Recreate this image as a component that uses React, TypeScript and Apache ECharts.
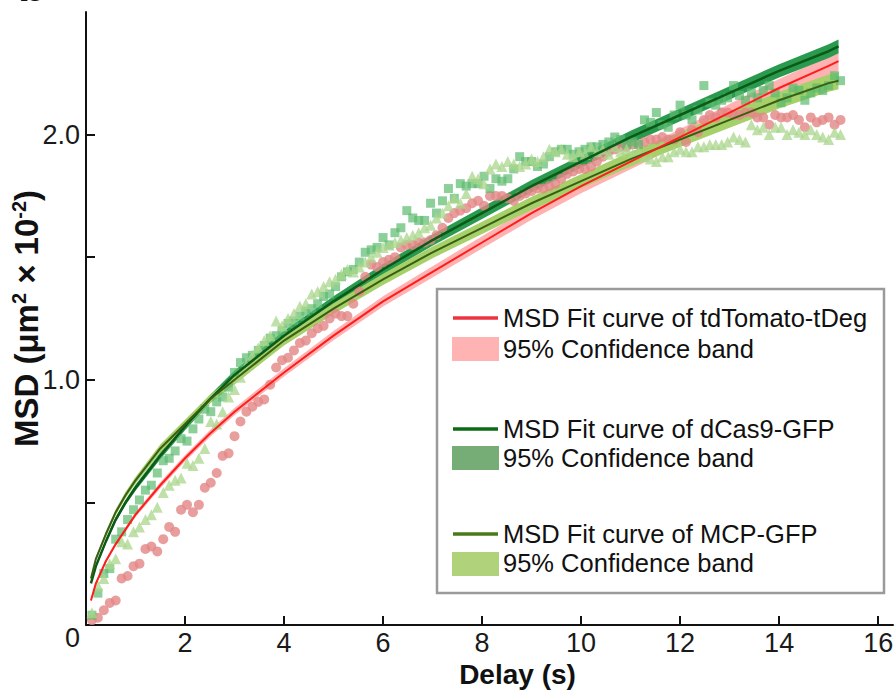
import React, { useEffect, useRef } from "react";
import * as echarts from "echarts";

const FONT = '"Liberation Sans", Arial, Helvetica, sans-serif';

// lag step between consecutive MSD delays (s)
const DELAY_STEP = 0.12;

// measured MSD (µm² × 10⁻²) per delay
const MSD_TDTOMATO = [
  0.02, 0.03, 0.06, 0.09, 0.1, 0.19, 0.2, 0.24, 0.25, 0.31, 0.32, 0.3, 0.35, 0.4, 0.38, 0.47, 0.49, 0.46, 0.49, 0.56,
  0.58, 0.62, 0.69, 0.7, 0.77, 0.83, 0.87, 0.89, 0.91, 0.92, 0.98, 1.05, 1.08, 1.09, 1.12, 1.15, 1.16, 1.19, 1.21, 1.22,
  1.25, 1.27, 1.26, 1.26, 1.31, 1.36, 1.42, 1.47, 1.46, 1.48, 1.49, 1.5, 1.54, 1.55, 1.55, 1.56, 1.56, 1.57, 1.59, 1.62,
  1.66, 1.68, 1.69, 1.7, 1.72, 1.73, 1.71, 1.75, 1.75, 1.75, 1.74, 1.73, 1.75, 1.76, 1.77, 1.78, 1.78, 1.79, 1.8, 1.82,
  1.84, 1.85, 1.86, 1.86, 1.87, 1.89, 1.91, 1.93, 1.94, 1.95, 1.95, 1.96, 1.96, 1.97, 1.98, 1.98, 1.99, 1.98, 1.98, 2.01,
  1.97, 2.02, 2.01, 2.06, 2.08, 2.07, 2.09, 2.09, 2.08, 2.08, 2.09, 2.09, 2.07, 2.07, 2.04, 2.08, 2.07, 2.07, 2.08, 2.06,
  2.03, 2.07, 2.05, 2.06, 2.07, 2.04, 2.06,
];

const MSD_DCAS9 = [
  0.04, 0.13, 0.21, 0.23, 0.35, 0.38, 0.43, 0.47, 0.51, 0.55, 0.57, 0.62, 0.67, 0.68, 0.71, 0.76, 0.75, 0.8, 0.84, 0.88,
  0.87, 0.91, 0.93, 0.97, 1.03, 1.07, 1.09, 1.1, 1.12, 1.14, 1.17, 1.18, 1.2, 1.23, 1.24, 1.26, 1.28, 1.29, 1.31, 1.34,
  1.35, 1.38, 1.42, 1.44, 1.45, 1.48, 1.52, 1.53, 1.54, 1.58, 1.55, 1.6, 1.62, 1.69, 1.66, 1.65, 1.65, 1.72, 1.68, 1.73,
  1.78, 1.74, 1.8, 1.79, 1.8, 1.8, 1.83, 1.78, 1.82, 1.81, 1.82, 1.86, 1.91, 1.89, 1.89, 1.87, 1.88, 1.91, 1.93, 1.94,
  1.94, 1.92, 1.93, 1.94, 1.95, 1.95, 1.96, 1.97, 1.99, 1.98, 1.96, 1.97, 1.96, 2.06, 2.05, 2.09, 2.04, 2.03, 2.08, 2.12,
  2.08, 2.06, 2.1, 2.2, 2.13, 2.12, 2.14, 2.15, 2.2, 2.16, 2.14, 2.17, 2.15, 2.18, 2.2, 2.17, 2.13, 2.15, 2.19, 2.18,
  2.14, 2.17, 2.19, 2.18, 2.2, 2.24, 2.22,
];

const MSD_MCP = [
  0.05, 0.16, 0.19, 0.25, 0.27, 0.34, 0.33, 0.38, 0.4, 0.43, 0.45, 0.48, 0.54, 0.57, 0.59, 0.6, 0.66, 0.65, 0.68, 0.72,
  0.83, 0.82, 0.87, 0.93, 0.96, 1.01, 1.06, 1.1, 1.13, 1.16, 1.18, 1.24, 1.22, 1.25, 1.27, 1.3, 1.31, 1.35, 1.36, 1.38,
  1.4, 1.41, 1.43, 1.45, 1.44, 1.46, 1.48, 1.5, 1.52, 1.54, 1.55, 1.56, 1.57, 1.58, 1.59, 1.6, 1.62, 1.63, 1.66, 1.68,
  1.71, 1.74, 1.72, 1.76, 1.83, 1.82, 1.8, 1.86, 1.88, 1.87, 1.89, 1.88, 1.87, 1.88, 1.9, 1.89, 1.91, 1.94, 1.93, 1.94,
  1.92, 1.91, 1.93, 1.92, 1.95, 1.93, 1.94, 1.92, 1.95, 1.93, 1.94, 1.92, 1.93, 1.91, 1.9, 1.89, 1.91, 1.91, 1.93, 1.94,
  1.93, 1.93, 1.95, 1.95, 1.96, 1.96, 1.96, 1.97, 1.99, 1.98, 1.97, 2.04, 2.02, 2.03, 2.0, 2.03, 2.03, 2.0, 2.02, 2.01,
  2.0, 2.02, 2.0, 1.99, 1.98, 2.01, 2.0,
];

// fitted MSD curves and 95% confidence half-widths
const FIT_DELAYS = [0.1, 0.2, 0.4, 0.6, 0.8, 1, 1.5, 2, 2.5, 3, 4, 5, 6, 7, 8, 9, 10, 11, 12, 13, 14, 15, 15.2];
const FIT_TDTOMATO = [0.1, 0.17, 0.26, 0.33, 0.39, 0.45, 0.57, 0.68, 0.78, 0.87, 1.03, 1.18, 1.32, 1.44, 1.56, 1.68, 1.79, 1.89, 1.99, 2.09, 2.19, 2.28, 2.3];
const FIT_DCAS9 = [0.17, 0.24, 0.34, 0.43, 0.5, 0.56, 0.69, 0.81, 0.92, 1.02, 1.18, 1.32, 1.45, 1.57, 1.68, 1.79, 1.89, 1.99, 2.08, 2.17, 2.26, 2.34, 2.36];
const FIT_MCP = [0.19, 0.27, 0.37, 0.46, 0.53, 0.59, 0.72, 0.82, 0.92, 1.0, 1.16, 1.29, 1.41, 1.52, 1.62, 1.72, 1.81, 1.9, 1.98, 2.06, 2.14, 2.21, 2.22];
const CI_TDTOMATO = [0.004, 0.005, 0.007, 0.008, 0.009, 0.01, 0.012, 0.013, 0.014, 0.015, 0.017, 0.019, 0.021, 0.023, 0.025, 0.027, 0.029, 0.031, 0.033, 0.035, 0.037, 0.04, 0.04];
const CI_DCAS9 = [0.004, 0.006, 0.008, 0.01, 0.011, 0.012, 0.014, 0.016, 0.017, 0.018, 0.02, 0.021, 0.022, 0.023, 0.024, 0.025, 0.025, 0.026, 0.026, 0.027, 0.027, 0.028, 0.028];
const CI_MCP = [0.006, 0.008, 0.01, 0.012, 0.013, 0.014, 0.016, 0.017, 0.018, 0.019, 0.02, 0.022, 0.023, 0.024, 0.025, 0.027, 0.028, 0.03, 0.031, 0.032, 0.034, 0.035, 0.035];

const X_TICKS = [2, 4, 6, 8, 10, 12, 14, 16];
const Y_LABELS = [0, 1, 2];
const Y_TICKS = [0.5, 1, 1.5, 2];

const LEGEND_ITEMS = [
  "MSD Fit curve of tdTomato-tDeg",
  "95% Confidence band",
  "MSD Fit curve of dCas9-GFP",
  "95% Confidence band",
  "MSD Fit curve of MCP-GFP",
  "95% Confidence band",
];

const COLORS = {
  redDot: "#e38686",
  redLine: "#ff1c1c",
  redBand: "#ffb2b2",
  redLegendLine: "#ee3340",
  redLegendBand: "#ffb3b3",
  gSquare: "#5bbb6d",
  gLine: "#0c5a18",
  gBand: "#2a9a4e",
  gLegendLine: "#0a6b14",
  gLegendBand: "#76ad76",
  mTri: "#a9d58b",
  mLine: "#3a5f12",
  mBand: "#a6d06a",
  mLegendLine: "#4a7a18",
  mLegendBand: "#b0d27a",
};

function bandSeries(name: string, fit: number[], ci: number[], color: string) {
  return {
    type: "custom",
    name,
    silent: true,
    clip: true,
    data: FIT_DELAYS.map((t, i) => [t, fit[i] - ci[i], fit[i] + ci[i]]),
    encode: { x: 0, y: [1, 2] },
    renderItem: (params: any, api: any) => {
      if (params.dataIndex !== 0) return null;
      const upper = FIT_DELAYS.map((t, i) => api.coord([t, fit[i] + ci[i]]));
      const lower = FIT_DELAYS.map((t, i) => api.coord([t, fit[i] - ci[i]])).reverse();
      return {
        type: "polygon",
        shape: { points: upper.concat(lower) },
        style: { fill: color },
      };
    },
  };
}

function fitSeries(name: string, fit: number[], color: string, width: number) {
  return {
    type: "line",
    name,
    data: FIT_DELAYS.map((t, i) => [t, fit[i]]),
    symbol: "none",
    lineStyle: { color, width },
    silent: true,
  };
}

function scatterSeries(name: string, values: number[], symbol: string, size: number, color: string, opacity: number) {
  return {
    type: "scatter",
    name,
    data: values.map((v, i) => [+(DELAY_STEP * (i + 1)).toFixed(2), v]),
    symbol,
    symbolSize: size,
    itemStyle: { color, opacity },
    silent: true,
  };
}

function legendGraphics() {
  const lineX1 = 453;
  const lineX2 = 498;
  const rows = [
    { kind: "line", y: 318, color: COLORS.redLegendLine },
    { kind: "rect", y: 337, color: COLORS.redLegendBand },
    { kind: "line", y: 429, color: COLORS.gLegendLine },
    { kind: "rect", y: 446, color: COLORS.gLegendBand },
    { kind: "line", y: 534, color: COLORS.mLegendLine },
    { kind: "rect", y: 552, color: COLORS.mLegendBand },
  ];
  const textY = [318, 349, 429, 458, 534, 563];
  const els: any[] = [
    {
      type: "rect",
      shape: { x: 437, y: 289, width: 447, height: 304 },
      style: { fill: "#ffffff", stroke: "#9a9a9a", lineWidth: 2.5 },
      z: 100,
    },
  ];
  rows.forEach((r, i) => {
    if (r.kind === "line") {
      els.push({
        type: "line",
        shape: { x1: lineX1, y1: r.y, x2: lineX2, y2: r.y },
        style: { stroke: r.color, lineWidth: 3.5 },
        z: 101,
      });
    } else {
      els.push({
        type: "rect",
        shape: { x: 452, y: r.y, width: 47, height: 24 },
        style: { fill: r.color },
        z: 101,
      });
    }
    els.push({
      type: "text",
      x: 503,
      y: textY[i],
      style: {
        text: LEGEND_ITEMS[i],
        fontSize: 25.5,
        lineHeight: 25,
        fontFamily: FONT,
        fill: "#111111",
        verticalAlign: "middle",
        align: "left",
      },
      z: 101,
    });
  });
  return els;
}

export default function App() {
  const ref = useRef<HTMLDivElement>(null);

  useEffect(() => {
    if (!ref.current) return;
    const chart = echarts.init(ref.current, undefined, { renderer: "svg" });
    const option: any = {
      animation: false,
      backgroundColor: "#ffffff",
      grid: { left: 86, right: 2, top: 12, bottom: 66, containLabel: false, outerBoundsMode: "none" },
      xAxis: {
        type: "value",
        min: 0,
        max: 16.3,
        interval: 2,
        name: "Delay (s)",
        nameLocation: "middle",
        nameGap: 35,
        nameMoveOverlap: false,
        nameTextStyle: {
          fontSize: 28,
          fontWeight: "bold",
          fontFamily: FONT,
          color: "#111111",
          padding: [0, 0, 0, 56],
        },
        axisLine: { show: true, onZero: false, lineStyle: { color: "#111111", width: 2 } },
        axisTick: { show: true, inside: true, length: 9, lineStyle: { color: "#111111", width: 2 }, customValues: X_TICKS },
        axisLabel: {
          show: true,
          customValues: X_TICKS,
          fontSize: 27,
          fontFamily: FONT,
          color: "#1a1a1a",
          margin: 4,
        },
        splitLine: { show: false },
      },
      yAxis: {
        type: "value",
        min: 0,
        max: 2.5,
        interval: 0.5,
        name: "{b|MSD (μm}{s|2}{b| × 10}{s|-2}{b|)}",
        nameLocation: "middle",
        nameRotate: 90,
        nameGap: 43,
        nameMoveOverlap: false,
        nameTextStyle: {
          color: "#111111",
          padding: [0, 0, 0, 0],
          rich: {
            b: { fontSize: 33, lineHeight: 34, fontWeight: "bold", fontFamily: FONT, color: "#111111" },
            s: { fontSize: 20, lineHeight: 34, fontWeight: "bold", fontFamily: FONT, color: "#111111", verticalAlign: "top" },
          },
        },
        axisLine: { show: true, onZero: false, lineStyle: { color: "#111111", width: 2 } },
        axisTick: { show: true, inside: true, length: 9, lineStyle: { color: "#111111", width: 2 }, customValues: Y_TICKS },
        axisLabel: {
          show: true,
          customValues: Y_LABELS,
          fontSize: 27,
          fontFamily: FONT,
          color: "#1a1a1a",
          margin: 6,
          formatter: (v: number) => (v === 0 ? "{z|0}" : v.toFixed(1)),
          rich: {
            z: { fontSize: 27, fontFamily: FONT, color: "#1a1a1a", padding: [26, 0, 0, 0] },
          },
        },
        splitLine: { show: false },
      },
      series: [
        scatterSeries("tdTomato-tDeg", MSD_TDTOMATO, "circle", 10, COLORS.redDot, 0.8),
        scatterSeries("dCas9-GFP", MSD_DCAS9, "rect", 9, COLORS.gSquare, 0.7),
        scatterSeries("MCP-GFP", MSD_MCP, "triangle", 11, COLORS.mTri, 0.75),
        bandSeries("bandRed", FIT_TDTOMATO, CI_TDTOMATO, COLORS.redBand),
        bandSeries("bandDcas9", FIT_DCAS9, CI_DCAS9, COLORS.gBand),
        fitSeries("fitDcas9", FIT_DCAS9, COLORS.gLine, 2.5),
        bandSeries("bandMcp", FIT_MCP, CI_MCP, COLORS.mBand),
        fitSeries("fitMcp", FIT_MCP, COLORS.mLine, 2),
        fitSeries("fitRed", FIT_TDTOMATO, COLORS.redLine, 2),
      ],
      graphic: [
        {
          type: "text",
          x: 18,
          y: 8,
          style: {
            text: "b",
            fontSize: 46,
            fontWeight: "bold",
            fontFamily: FONT,
            fill: "#111111",
            verticalAlign: "bottom",
          },
        },
        ...legendGraphics(),
      ],
    };
    chart.setOption(option);
    return () => chart.dispose();
  }, []);

  return (
    <div
      ref={ref}
      style={{ position: "fixed", left: 0, top: 0, width: 895, height: 691, background: "#ffffff" }}
    />
  );
}
